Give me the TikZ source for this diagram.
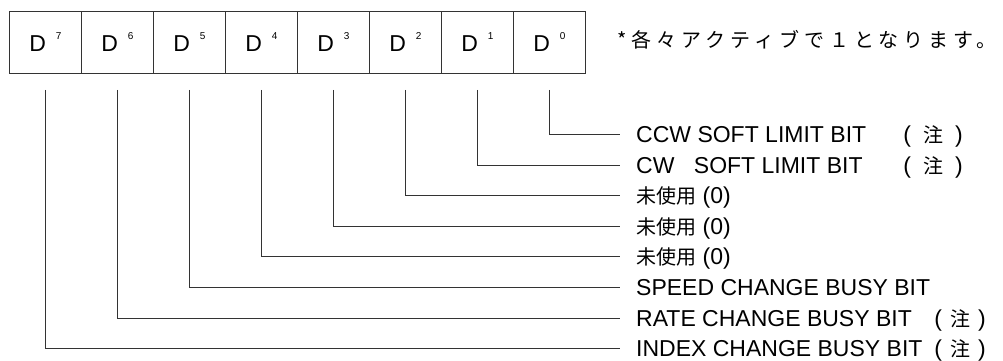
\documentclass[tikz,border=0pt]{standalone}
\usepackage{fontspec}
\setmainfont{Liberation Sans}
\newfontfamily\jpfont{Noto Sans CJK JP}
\newfontfamily\jpwide[LetterSpace=25]{Noto Sans CJK JP}
\newcommand{\bitname}[1]{D\hspace{10pt}\raisebox{12pt}{\fontsize{10}{12}\selectfont #1}}
\newcommand{\jp}[1]{{\jpfont\fontsize{20}{24}\selectfont #1}}

\begin{document}
\begin{tikzpicture}[x=1pt,y=-1pt,font=\fontsize{23}{27}\selectfont,
  bitcell/.style={draw=black!80, line width=0.8pt, minimum width=72pt, minimum height=62pt, inner sep=0pt, anchor=north west},
  bitlabel/.style={anchor=west, inner xsep=16pt, inner ysep=0pt, text height=16pt, text depth=0pt},
  notelabel/.style={anchor=east, inner sep=0pt, text height=16pt, text depth=0pt},
  wire/.style={draw=black!80, line width=0.8pt}]
\useasboundingbox (0,0) rectangle (1003,360);
\node[bitcell] (d7) at (9,11) {\bitname{7}};
\node[bitcell] (d6) at (81,11) {\bitname{6}};
\node[bitcell] (d5) at (153,11) {\bitname{5}};
\node[bitcell] (d4) at (225,11) {\bitname{4}};
\node[bitcell] (d3) at (297,11) {\bitname{3}};
\node[bitcell] (d2) at (369,11) {\bitname{2}};
\node[bitcell] (d1) at (441,11) {\bitname{1}};
\node[bitcell] (d0) at (513,11) {\bitname{0}};
\node[anchor=west, inner sep=0pt] (remark) at (617,40) {\jpwide\fontsize{20}{24}\selectfont *各々アクティブで１となります。};
\node[bitlabel] (l0) at (620,134) {CCW SOFT LIMIT BIT};
\node[bitlabel] (l1) at (620,165) {CW\hspace{13pt} SOFT LIMIT BIT};
\node[bitlabel] (l2) at (620,195) {\jp{未使用} (0)};
\node[bitlabel] (l3) at (620,226) {\jp{未使用} (0)};
\node[bitlabel] (l4) at (620,256) {\jp{未使用} (0)};
\node[bitlabel] (l5) at (620,287) {SPEED CHANGE BUSY BIT};
\node[bitlabel] (l6) at (620,318) {RATE CHANGE BUSY BIT};
\node[bitlabel] (l7) at (620,348) {INDEX CHANGE BUSY BIT};
\node[notelabel] (n0) at (963,134) {(\hspace{12pt}\jp{注}\hspace{12pt})};
\node[notelabel] (n1) at (963,165) {(\hspace{12pt}\jp{注}\hspace{12pt})};
\node[notelabel] (n6) at (986,318) {(\hspace{8pt}\jp{注}\hspace{8pt})};
\node[notelabel] (n7) at (986,348) {(\hspace{8pt}\jp{注}\hspace{8pt})};
\draw[wire] ([yshift=-16pt]d0.south) |- (l0.west);
\draw[wire] ([yshift=-16pt]d1.south) |- (l1.west);
\draw[wire] ([yshift=-16pt]d2.south) |- (l2.west);
\draw[wire] ([yshift=-16pt]d3.south) |- (l3.west);
\draw[wire] ([yshift=-16pt]d4.south) |- (l4.west);
\draw[wire] ([yshift=-16pt]d5.south) |- (l5.west);
\draw[wire] ([yshift=-16pt]d6.south) |- (l6.west);
\draw[wire] ([yshift=-16pt]d7.south) |- (l7.west);
\end{tikzpicture}
\end{document}
